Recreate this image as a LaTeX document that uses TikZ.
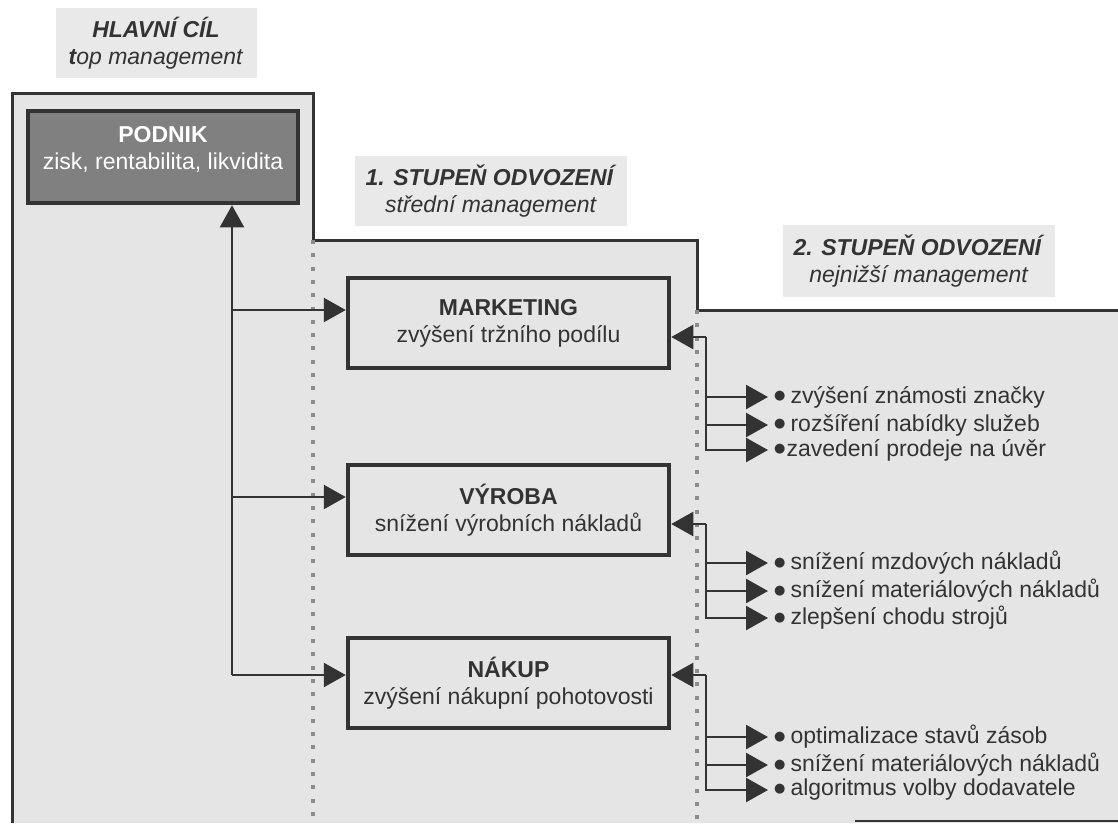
\documentclass[tikz,border=0pt]{standalone}
\usepackage{fontspec}
\setmainfont{Liberation Sans}
\newfontfamily\znaky{DejaVu Sans}
\usetikzlibrary{arrows.meta}
\tikzset{>={Triangle[length=22pt,width=24pt]}}
\definecolor{ink}{HTML}{333333}
\definecolor{panel}{HTML}{E5E5E5}
\definecolor{tag}{HTML}{E9E9E9}
\definecolor{dotgray}{HTML}{8C8C8C}
\definecolor{dark}{HTML}{808080}
\newcommand{\bod}{\raisebox{3.5pt}{\znaky\fontsize{13}{15}\selectfont ●}}
\tikzset{
  tagbox/.style={fill=tag, align=center, inner sep=0pt, text=ink, minimum height=70pt},
  goalbox/.style={draw=ink, line width=4.5pt, fill=panel, minimum width=321pt, minimum height=90pt, align=center, text=ink},
  topbox/.style={draw=ink, line width=4.5pt, fill=dark, minimum width=270pt, minimum height=92pt},
  link/.style={draw=ink, line width=2.5pt},
  item/.style={anchor=west, inner sep=0pt, text=ink},
  dots/.style={dotgray, line width=4pt, dash pattern=on 4pt off 9.3pt},
}

\begin{document}
\begin{tikzpicture}[x=1pt, y=-1pt, font=\fontsize{23}{27}\selectfont]
    \useasboundingbox (0,0) rectangle (1118,823);
    % stupne
    \fill[panel] (12,823) -- (12,93) -- (313,93) -- (313,240) -- (697,240) -- (697,310) -- (1118,310) -- (1118,823) -- cycle;
    \draw[ink, line width=3pt] (12,823) -- (12,93) -- (313,93) -- (313,240) -- (697,240) -- (697,310) -- (1118,310);
    \draw[ink, line width=2pt] (855,821) -- (1118,821);
    \draw[dots] (313,240) -- (313,823);
    \draw[dots] (697,310) -- (697,823);
    % popisky
    \node[tagbox, minimum width=201pt] (hlavni) at (156,43) {\textbf{\textit{HLAVNÍ CÍL}}\\\textit{{\bfseries t}op management}};
    \node[tagbox, minimum width=272pt] (stupen1) at (491,191) {\textbf{\textit{1. STUPEŇ ODVOZENÍ}}\\\textit{střední management}};
    \node[tagbox, minimum width=272pt, minimum height=72pt] (stupen2) at (919,261) {\textbf{\textit{2. STUPEŇ ODVOZENÍ}}\\\textit{nejnižší management}};
    % cile
    \node[topbox] (podnik) at (163,157) {};
    \node[align=center, text=white] (podniktxt) at ([yshift=8pt]podnik.center) {\textbf{PODNIK}\\zisk, rentabilita, likvidita};
    \node[goalbox] (marketing) at (508.5,323) {\textbf{MARKETING}\\zvýšení tržního podílu};
    \node[goalbox] (vyroba) at (508.5,510) {\textbf{VÝROBA}\\snížení výrobních nákladů};
    \node[goalbox] (nakup) at (508.5,683) {\textbf{NÁKUP}\\zvýšení nákupní pohotovosti};
    % dilci cile
    \node[item] (m1) at (774,397) {\bod\hspace{5pt}zvýšení známosti značky};
    \node[item] (m2) at (774,425) {\bod\hspace{5pt}rozšíření nabídky služeb};
    \node[item] (m3) at (774,450) {\bod\hspace{1pt}zavedení prodeje na úvěr};
    \node[item] (v1) at (774,563) {\bod\hspace{5pt}snížení mzdových nákladů};
    \node[item] (v2) at (774,591) {\bod\hspace{5pt}snížení materiálových nákladů};
    \node[item] (v3) at (774,618) {\bod\hspace{5pt}zlepšení chodu strojů};
    \node[item] (n1) at (774,737) {\bod\hspace{5pt}optimalizace stavů zásob};
    \node[item] (n2) at (774,765) {\bod\hspace{5pt}snížení materiálových nákladů};
    \node[item] (n3) at (774,790) {\bod\hspace{5pt}algoritmus volby dodavatele};
    % vazby
    \coordinate (tm) at (232,310);
    \coordinate (tv) at (232,497);
    \coordinate (tn) at (232,675);
    \draw[link, line width=2pt, ->] (tn) -- (tn |- podnik.south);
    \draw[link, ->] (tm) -- (tm -| marketing.west);
    \draw[link, ->] (tv) -- (tv -| vyroba.west);
    \draw[link, ->] (tn) -- (tn -| nakup.west);
    \coordinate (rm) at (706,337);
    \coordinate (rv) at (706,524);
    \coordinate (rn) at (706,675);
    \draw[link, ->] (rm) -- (rm -| marketing.east);
    \draw[link, ->] (rv) -- (rv -| vyroba.east);
    \draw[link, ->] (rn) -- (rn -| nakup.east);
    \foreach \i in {1,2,3}{
        \draw[link, ->] (rm) |- ([xshift=-6pt]m\i.west);
        \draw[link, ->] (rv) |- ([xshift=-6pt]v\i.west);
        \draw[link, ->] (rn) |- ([xshift=-6pt]n\i.west);
    }
\end{tikzpicture}
\end{document}
